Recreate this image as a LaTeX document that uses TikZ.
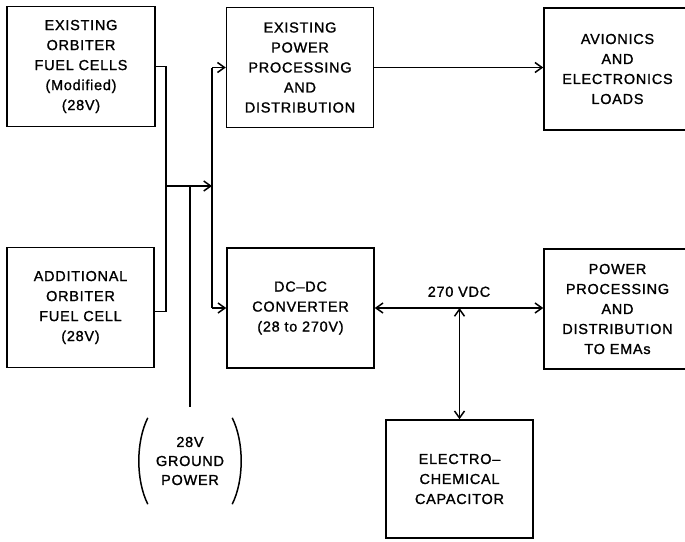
\documentclass[tikz,border=0pt]{standalone}
\usepackage{fontspec}
\newfontfamily\lettering{Liberation Sans}[LetterSpace=5, FakeBold=1.2]
\usetikzlibrary{arrows.meta, positioning, calc}
\tikzset{
  block/.style={rectangle, draw=black, line width=1.5pt, minimum width=147pt, minimum height=120pt, text centered, align=center, font=\lettering\fontsize{14.5}{20}\selectfont},
  note/.style={align=center, font=\lettering\fontsize{14.5}{19}\selectfont},
  wire/.style={line width=1.5pt},
  arrow/.style={wire, -{Straight Barb[length=7pt,width=10pt]}},
  biarrow/.style={wire, {Straight Barb[length=7pt,width=10pt]}-{Straight Barb[length=7pt,width=10pt]}}
}

\begin{document}
\begin{tikzpicture}[x=1pt, y=-1pt]

    \useasboundingbox (0,0) rectangle (685,541);

    % 1. Fuentes de 28V
    \node[block, minimum width=148pt] (fc1) at (81,66.5) {EXISTING\\ORBITER\\FUEL CELLS\\(Modified)\\(28V)};
    \node[block] (fc2) at (80.5,307.5) {ADDITIONAL\\ORBITER\\FUEL CELL\\(28V)};

    % 2. Procesamiento y convertidor
    \node[block] (epp) at (300,67.5) {EXISTING\\POWER\\PROCESSING\\AND\\DISTRIBUTION};
    \node[block] (dcdc) at (300.5,308) {DC–DC\\CONVERTER\\(28 to 270V)};

    % 3. Cargas
    \node[block, minimum height=122pt] (avio) at (617.5,69) {AVIONICS\\AND\\ELECTRONICS\\LOADS};
    \node[block] (ppd) at (617.5,309) {POWER\\PROCESSING\\AND\\DISTRIBUTION\\TO EMAs};
    \node[block, minimum height=118pt] (cap) at (459.5,479) {ELECTRO–\\CHEMICAL\\CAPACITOR};

    % 4. Toma de tierra (entre parentesis)
    \node[note, minimum width=84pt, minimum height=86pt] (gnd) at (190,461) {28V\\GROUND\\POWER};
    \draw[wire] (gnd.north west) .. controls +(-12,24) and +(-12,-24) .. (gnd.south west);
    \draw[wire] (gnd.north east) .. controls +(12,24) and +(12,-24) .. (gnd.south east);

    % -------------------------------------------------------------
    % CONEXIONES
    % -------------------------------------------------------------
    \coordinate (j1) at (166,186);
    \coordinate (gj) at (190,186);
    \coordinate (bus) at (212,186);
    \coordinate (gp) at (190,407);

    % Pilas hacia el nodo comun
    \draw[wire] (fc1.east) -| (j1);
    \draw[wire] ([yshift=-4pt]fc2.east) -| (j1);
    \draw[arrow] (j1) -- (bus);
    \draw[wire] (gj) -- (gp);

    % Barra de 28V
    \draw[wire] (bus |- epp.west) -- (bus |- dcdc.west);
    \draw[arrow] (bus |- epp.west) -- (epp.west);
    \draw[arrow] (bus |- dcdc.west) -- (dcdc.west);
    \draw[arrow] (epp.east) -- (epp.east -| avio.west);

    % Barra de 270 VDC
    \draw[biarrow] (dcdc.east) -- (dcdc.east -| ppd.west) node[note, midway, above=7pt] (vdc) {270 VDC};
    \draw[biarrow] (cap.north |- dcdc.east) -- (cap.north);

\end{tikzpicture}
\end{document}
